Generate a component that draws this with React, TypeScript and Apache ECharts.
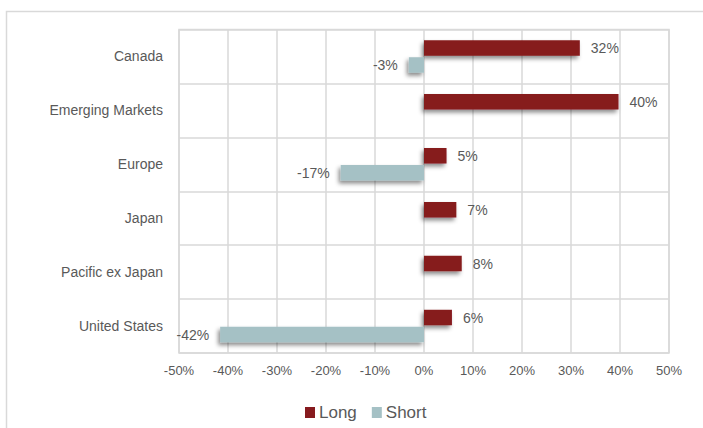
import React, { useEffect, useRef } from "react";
import * as echarts from "echarts";

const categories = ["Canada", "Emerging Markets", "Europe", "Japan", "Pacific ex Japan", "United States"];
const longValues = [31.8, 39.7, 4.6, 6.6, 7.7, 5.7];
const shortValues: (number | null)[] = [-3.1, null, -17.0, null, null, -41.6];
const xTicks = { min: -50, max: 50, interval: 10 };

const FONT = '"Liberation Sans Narrow", "Arial Narrow", "Liberation Sans", Arial, sans-serif';
const TEXT = "#595959";
const GRID = "#d9d9d9";
const LONG_COLOR = "#861a1e";
const SHORT_COLOR = "#a5c1c5";

export default function App() {
  const ref = useRef<HTMLDivElement>(null);
  useEffect(() => {
    if (!ref.current) return;
    const chart = echarts.init(ref.current, undefined, { renderer: "svg" });
    const shadow = {
      shadowColor: "rgba(0,0,0,0.45)",
      shadowBlur: 4,
      shadowOffsetX: -2,
      shadowOffsetY: 3,
    };
    chart.setOption({
      animation: false,
      backgroundColor: "#ffffff",
      textStyle: { fontFamily: FONT },
      graphic: [
        {
          type: "rect",
          shape: { x: 6.5, y: 11.5, width: 800, height: 600 },
          style: { fill: "none", stroke: GRID, lineWidth: 1.5 },
          silent: true,
          z: -10,
        },
      ],
      grid: {
        left: 179,
        right: 34,
        top: 29.5,
        bottom: 75,
        show: true,
        borderColor: GRID,
        borderWidth: 1.5,
        backgroundColor: "transparent",
      },
      legend: {
        left: 300,
        top: 399,
        itemWidth: 10,
        itemHeight: 11,
        itemGap: 15,
        icon: "rect",
        textStyle: { fontSize: 17, color: TEXT, fontFamily: FONT, padding: [0, 0, 0, -1] },
        data: ["Long", "Short"],
      },
      xAxis: {
        type: "value",
        min: xTicks.min,
        max: xTicks.max,
        interval: xTicks.interval,
        axisLine: { show: false },
        axisTick: { show: false },
        splitLine: { show: true, lineStyle: { color: GRID, width: 1.5 } },
        axisLabel: {
          formatter: "{value}%",
          fontSize: 13,
          color: TEXT,
          fontFamily: FONT,
          margin: 11,
        },
      },
      yAxis: {
        type: "category",
        inverse: true,
        data: categories,
        axisLine: { show: false },
        axisTick: { show: false },
        splitLine: { show: true, lineStyle: { color: GRID, width: 1.5 } },
        axisLabel: { fontSize: 14, color: TEXT, fontFamily: FONT, margin: 16 },
      },
      series: [
        {
          name: "Long",
          type: "bar",
          data: longValues,
          barWidth: 15.5,
          barGap: "10%",
          itemStyle: { color: LONG_COLOR, ...shadow },
          label: {
            show: true,
            position: "right",
            distance: 11,
            formatter: (p: any) => Math.round(p.value) + "%",
            fontSize: 14,
            color: TEXT,
            fontFamily: FONT,
          },
        },
        {
          name: "Short",
          type: "bar",
          data: shortValues,
          barWidth: 15.5,
          itemStyle: { color: SHORT_COLOR, ...shadow },
          label: {
            show: true,
            position: "left",
            distance: 11,
            formatter: (p: any) => (p.value == null ? "" : Math.round(p.value) + "%"),
            fontSize: 14,
            color: TEXT,
            fontFamily: FONT,
          },
        },
      ],
    });
    return () => chart.dispose();
  }, []);
  return (
    <div
      ref={ref}
      style={{ position: "fixed", left: 0, top: 0, width: 703, height: 428 }}
    />
  );
}
